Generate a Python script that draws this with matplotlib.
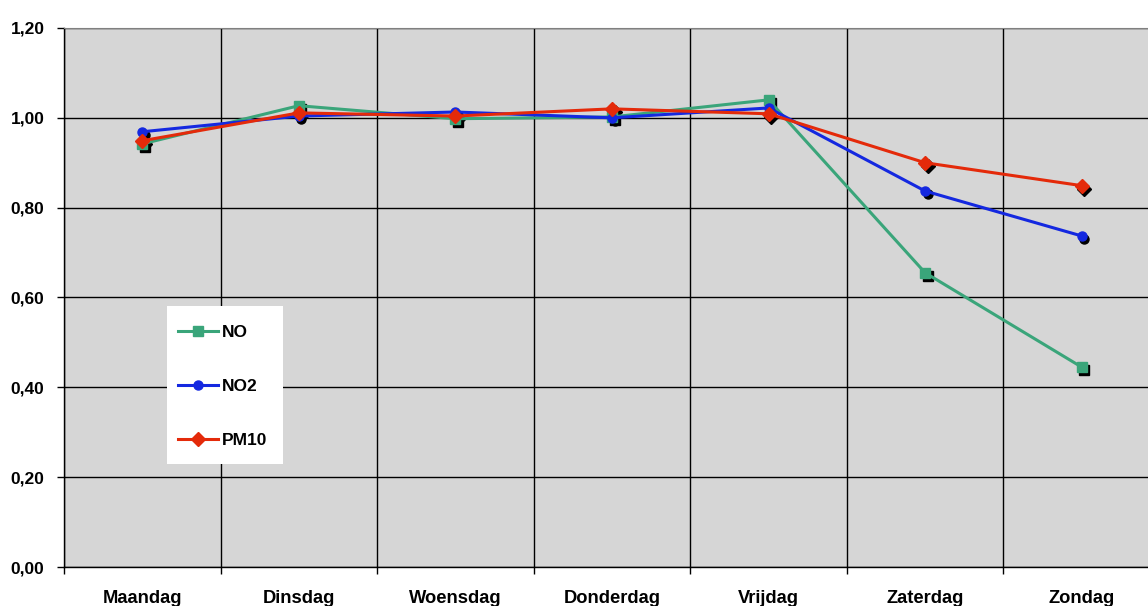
import numpy as np
import matplotlib.pyplot as plt
from matplotlib.patches import Rectangle
from matplotlib.transforms import offset_copy
from matplotlib.ticker import FixedLocator, FuncFormatter

plt.rcParams['font.family'] = ['Liberation Sans', 'DejaVu Sans']

dagen = ['Maandag', 'Dinsdag', 'Woensdag', 'Donderdag', 'Vrijdag', 'Zaterdag', 'Zondag']
no = [0.942, 1.027, 0.998, 1.002, 1.040, 0.655, 0.445]
no2 = [0.969, 1.004, 1.013, 1.000, 1.022, 0.837, 0.737]
pm10 = [0.949, 1.011, 1.004, 1.020, 1.009, 0.900, 0.849]

reeksen = [
    ('NO', no, '#3aa57a', 's', 6.5),
    ('NO2', no2, '#1428e0', 'o', 6.5),
    ('PM10', pm10, '#e42a0a', 'D', 7),
]

fig = plt.figure(figsize=(11.48, 6.06), dpi=100)
ax = fig.add_axes([64 / 1148, 39 / 606, 1096 / 1148, 539 / 606])
ax.set_facecolor('#d6d6d6')

x = np.arange(len(dagen))

# schaduw van de markers, iets naar rechtsonder verschoven
schaduw = offset_copy(ax.transData, fig=fig, x=2.5, y=-3, units='dots')
for naam, waarden, kleur, marker, ms in reeksen:
    ax.plot(x, waarden, linestyle='none', marker=marker, ms=ms, color='black',
            transform=schaduw, zorder=3)

for naam, waarden, kleur, marker, ms in reeksen:
    ax.plot(x, waarden, color=kleur, lw=2.2, marker=marker, ms=ms,
            mec=kleur, mfc=kleur, label=naam, zorder=4)

ax.set_xlim(-0.5, len(dagen) - 0.5)
ax.set_ylim(0, 1.2)

fs = 12.5
ax.set_xticks(x)
ax.set_xticklabels(dagen, fontsize=13.2, fontweight='bold')
ax.xaxis.set_minor_locator(FixedLocator(np.arange(-0.5, len(dagen), 1.0)))
ax.tick_params(axis='x', which='major', length=0, pad=16.5)
ax.tick_params(axis='x', which='minor', length=5, width=1, direction='out', color='black')

ax.set_yticks(np.arange(0, 1.21, 0.2))
ax.yaxis.set_major_formatter(FuncFormatter(lambda v, p: f'{v:.2f}'.replace('.', ',')))
ax.tick_params(axis='y', length=5, width=1, direction='out', pad=9, labelsize=fs)
for lbl in ax.get_yticklabels():
    lbl.set_fontweight('bold')

ax.grid(True, axis='y', which='major', color='black', lw=1)
ax.grid(True, axis='x', which='minor', color='black', lw=1)
ax.grid(False, axis='x', which='major')
ax.set_axisbelow(True)

for kant in ['left', 'bottom']:
    ax.spines[kant].set_color('black')
    ax.spines[kant].set_linewidth(1)
ax.spines['top'].set_color('#808080')
ax.spines['right'].set_visible(False)

# witte achtergrond voor de legenda
ax.add_patch(Rectangle((0.094, 0.191), 0.106, 0.293, transform=ax.transAxes,
                       facecolor='white', edgecolor='none', zorder=5))
leg = ax.legend(loc='upper left', bbox_to_anchor=(0.104, 0.450), borderaxespad=0,
                frameon=False, prop={'weight': 'bold', 'size': fs},
                labelspacing=2.25, handlelength=2.3, handletextpad=0.25,
                borderpad=0)
leg.set_zorder(6)

fig.savefig('out.png', dpi=100)
